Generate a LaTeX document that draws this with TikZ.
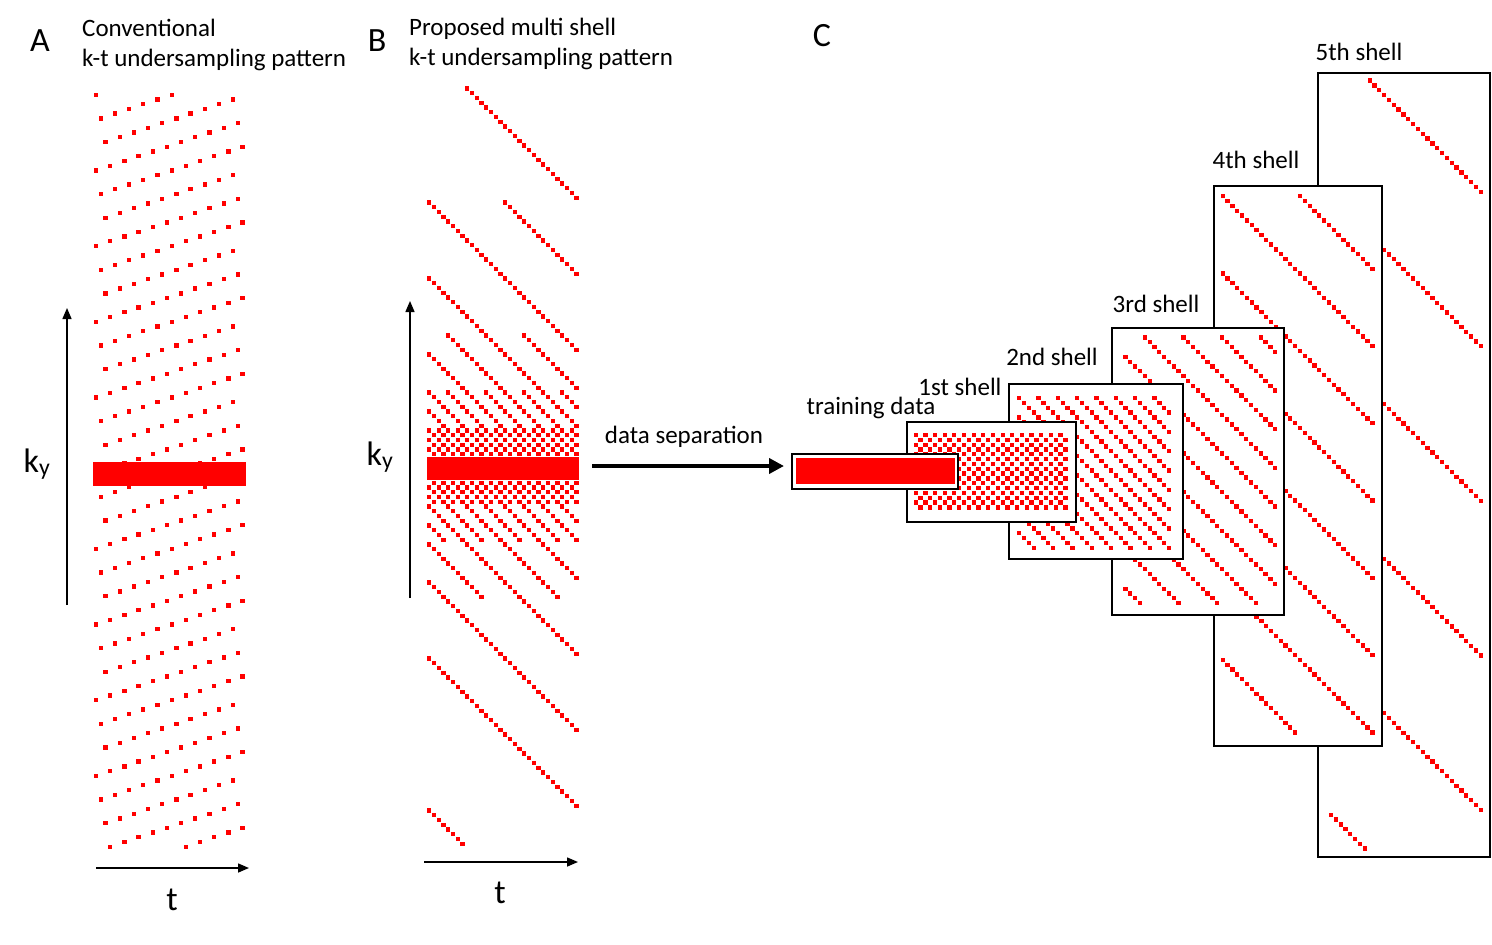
\documentclass[tikz,border=0pt]{standalone}
\usepackage{fontspec}
\setmainfont{Carlito}
\usetikzlibrary{arrows.meta}
\definecolor{kred}{RGB}{255,0,0}
\tikzset{
  shellbox/.style={draw, line width=2pt, fill=white, inner sep=0pt},
  axis/.style={line width=1.5pt, -{Triangle[length=11pt,width=9pt]}},
  sep/.style={line width=4pt, -{Triangle[length=15pt,width=15pt]}},
  lbl/.style={anchor=base west, inner sep=0pt, font=\fontsize{25}{30}\selectfont},
  clbl/.style={anchor=base, inner sep=0pt, font=\fontsize{25}{30}\selectfont},
  big/.style={anchor=base, inner sep=0pt, font=\fontsize{34}{40}\selectfont}
}
\newcommand\kdot[2]{\fill[kred] ({(#1)-2.15},{(#2)-2.15}) rectangle ++(4.3,4.3);}
\newcommand\kmodset[3]{%
  \edef#1{\the\numexpr(#2)-((#2)/(#3))*(#3)\relax}%
  \ifnum#1<0 \edef#1{\the\numexpr#1+(#3)\relax}\fi}
% x of first column, y of top row, rows, period, first column of top row
\newcommand\shellpattern[5]{%
  \edef\myN{\the\numexpr32/#4\relax}%
  \foreach \myJ in {1,...,#3}{
    \kmodset\myT{\myJ-1+#5}{#4}
    \foreach \myK in {1,...,\myN}{
      \kdot{#1+4.83*(\myT+(\myK-1)*#4)}{#2+4.83*(\myJ-1)}
    }
  }}
\begin{document}
\begin{tikzpicture}[x=1pt, y=-1pt]
  \useasboundingbox (0,0) rectangle (1492,945);

  % A
  \node[big] (la) at (40,51) {A};
  \node[lbl] (ta1) at (82,36) {Conventional};
  \node[lbl] (ta2) at (82,66) {k-t undersampling pattern};
  \foreach \myR in {0,...,159}{
    \kmodset\myC{16*16-3*\myR}{16}
    \kdot{96+4.73*\myC}{94.7+4.73*\myR}
    \kdot{96+4.73*(\myC+16)}{94.7+4.73*\myR}
  }
  \fill[kred] (93,462) rectangle (245.7,485.7);
  \coordinate (ay0) at (67,605);
  \coordinate (ay1) at (67,308);
  \coordinate (at0) at (96,868);
  \coordinate (at1) at (249,868);
  \draw[axis] (ay0) -- (ay1);
  \draw[axis] (at0) -- (at1);
  \node[big] (aky) at (37,472) {k\textsubscript{y}};
  \node[big] (att) at (172,910) {t};

  % B
  \node[big] (lb) at (377,51) {B};
  \node[lbl] (tb1) at (409,35) {Proposed multi shell};
  \node[lbl] (tb2) at (409,65) {k-t undersampling pattern};
  \foreach \myR in {0,...,159}{
    \edef\myE{\the\numexpr2*\myR-159\relax}
    \ifnum\myE<0 \edef\myE{\the\numexpr159-2*\myR\relax}\fi
    \ifnum\myE<16 \def\myP{2}\else
      \ifnum\myE<32 \def\myP{4}\else
        \ifnum\myE<56 \def\myP{8}\else
          \ifnum\myE<112 \def\myP{16}\else \def\myP{32}\fi
        \fi
      \fi
    \fi
    \ifnum\myP>8 \def\myO{8}\else \def\myO{0}\fi
    \kmodset\myT{\myR+176-\myO}{\myP}
    \edef\myN{\the\numexpr32/\myP\relax}
    \foreach \myK in {1,...,\myN}{
      \kdot{429.3+4.75*(\myT+(\myK-1)*\myP)}{88.4+4.75*\myR}
    }
  }
  \fill[kred] (427,456.5) rectangle (578.9,480.3);
  \coordinate (by0) at (410,598);
  \coordinate (by1) at (410,301);
  \coordinate (bt0) at (424,862);
  \coordinate (bt1) at (578,862);
  \draw[axis] (by0) -- (by1);
  \draw[axis] (bt0) -- (bt1);
  \node[big] (bky) at (380,465) {k\textsubscript{y}};
  \node[big] (btt) at (500,903) {t};

  % C
  \node[big] (lc) at (822,46) {C};
  \node[shellbox, minimum width=172pt, minimum height=784pt] (s5) at (1404,465) {};
  \shellpattern{1331}{80.6}{160}{32}{8}
  \node[clbl] (l5) at (1359,60) {5th shell};
  \node[shellbox, minimum width=168pt, minimum height=560pt] (s4) at (1298,465.85) {};
  \shellpattern{1222.7}{196.3}{112}{16}{0}
  \node[clbl] (l4) at (1256,168) {4th shell};
  \node[shellbox, minimum width=172.3pt, minimum height=287.3pt] (s3) at (1197.85,471.65) {};
  \shellpattern{1125.5}{337.5}{56}{8}{4}
  \node[clbl] (l3) at (1156,312) {3rd shell};
  \node[shellbox, minimum width=173.7pt, minimum height=174.7pt] (s2) at (1095.85,471.65) {};
  \shellpattern{1019.3}{398.1}{32}{4}{0}
  \node[clbl] (l2) at (1052,365) {2nd shell};
  \node[shellbox, minimum width=168.4pt, minimum height=99.7pt] (s1) at (991.5,471.85) {};
  \shellpattern{915.7}{435}{16}{2}{0}
  \node[clbl] (l1) at (960,395) {1st shell};
  \node[shellbox, minimum width=166.6pt, minimum height=34.7pt] (train) at (875,471.35) {};
  \fill[kred] ([shift={(5.6,4.7)}]train.north west) rectangle ([shift={(-4.3,-6)}]train.south east);
  \node[clbl] (ltrain) at (871,414) {training data};

  \coordinate (sepstart) at (592,466);
  \draw[sep, shorten >=6.7pt] (sepstart) -- (sepstart -| train.west);
  \node[clbl] (lsep) at (684,443) {data separation};
\end{tikzpicture}
\end{document}
